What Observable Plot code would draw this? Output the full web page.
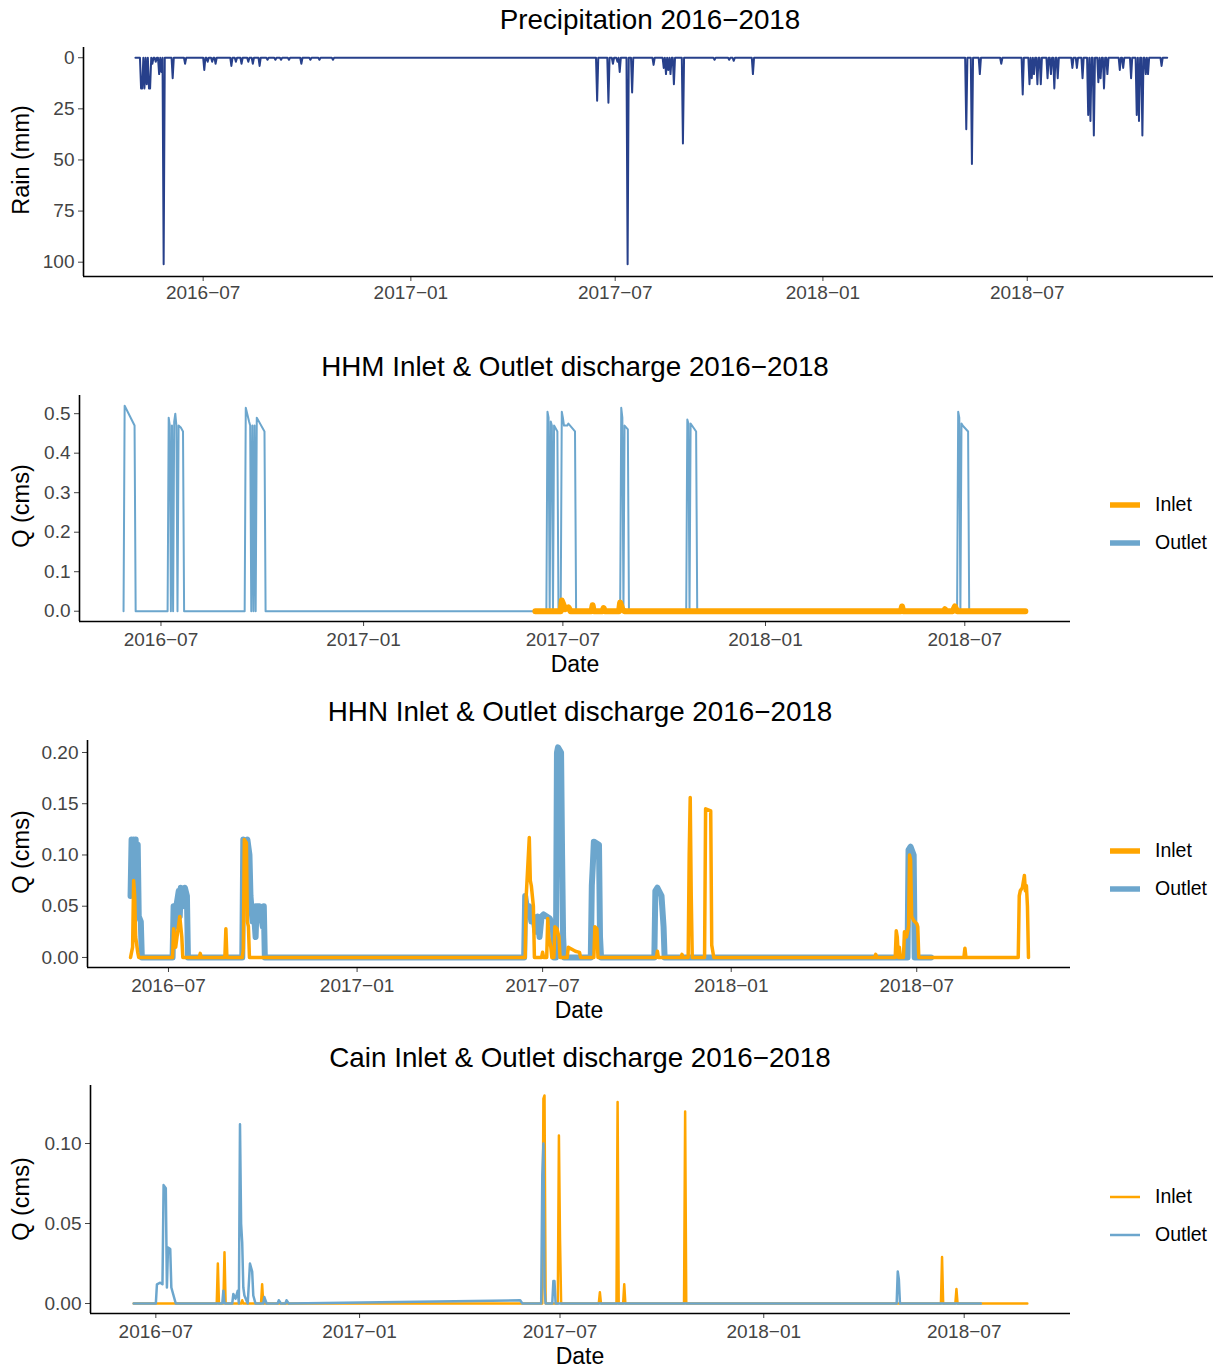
<!DOCTYPE html>
<html><head><meta charset="utf-8">
<script src="https://cdn.jsdelivr.net/npm/d3@7"></script>
<script src="https://cdn.jsdelivr.net/npm/@observablehq/plot@0.6"></script>
<style>
body{margin:0;background:#fff;width:1213px;height:1367px;overflow:hidden;position:relative;font-family:"Liberation Sans",Arial,Helvetica,sans-serif;}
.t{position:absolute;transform:translate(-50%,-50%);white-space:nowrap;color:#000;line-height:1;}
.r{transform:translate(-50%,-50%) rotate(-90deg);}
svg{position:absolute;left:0;}
</style></head><body><div id="root"></div><script>
// ---------- data ----------
const xTickDates = ["2016-07-01","2017-01-01","2017-07-01","2018-01-01","2018-07-01"];
const xTickLabels = ["2016\u221207","2017\u221201","2017\u221207","2018\u221201","2018\u221207"];

const rainTicks = [0,25,50,75,100];
const rainTickLabels = ["0","25","50","75","100"];
const hhmTicks = [0,0.1,0.2,0.3,0.4,0.5];
const hhmTickLabels = ["0.0","0.1","0.2","0.3","0.4","0.5"];
const hhnTicks = [0,0.05,0.1,0.15,0.2];
const hhnTickLabels = ["0.00","0.05","0.10","0.15","0.20"];
const cainTicks = [0,0.05,0.1];
const cainTickLabels = ["0.00","0.05","0.10"];

const seriesNames = ["Inlet","Outlet"];
const seriesColors = ["#FFA500","#6CA6CD"];
const rainColor = "#27408B";

const titles = ["Precipitation 2016\u22122018","HHM Inlet & Outlet discharge 2016\u22122018","HHN Inlet & Outlet discharge 2016\u22122018","Cain Inlet & Outlet discharge 2016\u22122018"];

// daily rain record: first/last day; days not listed had 0 mm
const rainStart = "2016-05-02", rainEnd = "2018-11-02";
const rainEvents = [
["2016-05-07",15],["2016-05-08",15],["2016-05-10",15],["2016-05-12",13],["2016-05-14",15],["2016-05-15",15],["2016-05-17",3],["2016-05-20",2],["2016-05-23",8],["2016-05-25",7],["2016-05-27",101],["2016-06-04",10],["2016-06-15",3],["2016-07-02",6],["2016-07-05",2],["2016-07-09",2],["2016-07-12",3],["2016-07-26",4],["2016-07-30",2],["2016-08-04",3],["2016-08-10",2],["2016-08-14",3],["2016-08-20",4],["2016-08-27",1],["2016-09-03",1],["2016-09-08",1],["2016-09-15",1],["2016-09-26",3],["2016-10-04",1],["2016-10-12",1],["2016-10-24",1],
["2017-06-15",21],["2017-06-25",22],["2017-06-29",3],["2017-07-03",2],["2017-07-05",7],["2017-07-12",101],["2017-07-16",17],["2017-08-04",3.5],["2017-08-13",5],["2017-08-15",8],["2017-08-17",6],["2017-08-19",8],["2017-08-22",13],["2017-08-30",42],["2017-09-27",1],["2017-10-10",1],["2017-10-14",1.5],["2017-10-31",8],
["2018-05-08",35],["2018-05-13",52],["2018-05-20",8],["2018-06-08",3],["2018-06-27",18],["2018-07-03",13],["2018-07-05",10],["2018-07-07",8],["2018-07-10",13],["2018-07-13",13],["2018-07-19",10],["2018-07-22",8],["2018-07-25",15],["2018-07-28",10],["2018-08-10",5],["2018-08-14",5],["2018-08-19",10],["2018-08-24",28],["2018-08-26",31],["2018-08-29",38],["2018-09-02",12],["2018-09-04",10],["2018-09-07",15],["2018-09-10",8],["2018-09-21",6],["2018-09-24",5],["2018-10-01",10],["2018-10-06",28],["2018-10-08",31],["2018-10-11",38],["2018-10-14",8],["2018-10-16",8],["2018-10-28",4]
];

const hhmOutlet = [
["2016-05-28",0],["2016-05-29",0.52],["2016-06-07",0.47],["2016-06-08",0],
["2016-07-07",0],["2016-07-08",0.49],["2016-07-09",0.47],["2016-07-10",0],["2016-07-11",0.47],["2016-07-12",0],["2016-07-13",0.48],["2016-07-14",0.50],["2016-07-15",0.47],["2016-07-16",0],["2016-07-17",0.47],["2016-07-19",0.465],["2016-07-21",0.455],["2016-07-22",0],
["2016-09-15",0],["2016-09-16",0.515],["2016-09-19",0.48],["2016-09-20",0.47],["2016-09-21",0],["2016-09-22",0.47],["2016-09-23",0],["2016-09-24",0.47],["2016-09-25",0],["2016-09-26",0.49],["2016-10-03",0.455],["2016-10-04",0],
["2017-06-16",0],["2017-06-17",0.505],["2017-06-18",0.49],["2017-06-19",0],["2017-06-20",0.48],["2017-06-21",0.47],["2017-06-22",0],["2017-06-23",0.47],["2017-06-26",0.455],["2017-06-27",0],
["2017-06-29",0],["2017-06-30",0.505],["2017-07-01",0.49],["2017-07-02",0.47],["2017-07-05",0.47],["2017-07-06",0.475],["2017-07-12",0.455],["2017-07-13",0],
["2017-08-22",0],["2017-08-23",0.515],["2017-08-24",0.49],["2017-08-25",0],["2017-08-26",0.47],["2017-08-29",0.46],["2017-08-30",0],
["2017-10-21",0],["2017-10-22",0.485],["2017-10-23",0.475],["2017-10-24",0],["2017-10-25",0.475],["2017-10-30",0.455],["2017-10-31",0],
["2018-06-24",0],["2018-06-25",0.505],["2018-06-26",0.49],["2018-06-27",0],["2018-06-28",0.475],["2018-06-29",0.47],["2018-07-04",0.455],["2018-07-05",0],["2018-08-20",0]
];
const hhmInlet = [
["2017-06-06",0],["2017-06-29",0],["2017-06-30",0.027],["2017-07-01",0.02],["2017-07-03",0.005],["2017-07-06",0.01],["2017-07-08",0],["2017-07-27",0],["2017-07-28",0.015],["2017-07-29",0],["2017-08-06",0],["2017-08-07",0.008],["2017-08-08",0],["2017-08-21",0],["2017-08-22",0.022],["2017-08-24",0.005],["2017-08-26",0],["2018-05-04",0],["2018-05-05",0.012],["2018-05-06",0],["2018-06-12",0],["2018-06-13",0.005],["2018-06-14",0],["2018-06-20",0],["2018-06-22",0.012],["2018-06-24",0],["2018-08-25",0]
];

const hhnOutlet = [
["2016-05-25",0.06],["2016-05-26",0.115],["2016-05-27",0.09],["2016-05-28",0.115],["2016-05-29",0.1],["2016-05-30",0.115],["2016-05-31",0.07],["2016-06-01",0.11],["2016-06-02",0.04],["2016-06-04",0.035],["2016-06-05",0],
["2016-07-05",0],["2016-07-06",0.05],["2016-07-08",0.03],["2016-07-09",0.052],["2016-07-11",0.065],["2016-07-12",0.04],["2016-07-13",0.068],["2016-07-15",0.05],["2016-07-17",0.068],["2016-07-19",0.06],["2016-07-20",0],
["2016-09-11",0],["2016-09-12",0.115],["2016-09-14",0.11],["2016-09-16",0.115],["2016-09-18",0.1],["2016-09-19",0.06],["2016-09-21",0.035],["2016-09-22",0.05],["2016-09-24",0.02],["2016-09-25",0.05],["2016-09-28",0.05],["2016-10-01",0.03],["2016-10-02",0.05],["2016-10-03",0],
["2017-06-13",0],["2017-06-14",0.06],["2017-06-16",0.045],["2017-06-18",0.05],["2017-06-20",0.035],["2017-06-22",0.04],["2017-06-24",0.025],["2017-06-26",0.04],["2017-06-28",0.02],["2017-06-30",0.04],["2017-07-02",0.042],["2017-07-05",0.04],["2017-07-08",0.038],["2017-07-11",0.03],["2017-07-12",0],["2017-07-14",0],["2017-07-15",0.2],["2017-07-16",0.205],["2017-07-19",0.2],["2017-07-20",0.1],["2017-07-21",0.02],["2017-07-22",0],
["2017-08-17",0],["2017-08-18",0.07],["2017-08-19",0.09],["2017-08-20",0.113],["2017-08-25",0.11],["2017-08-26",0.02],["2017-08-27",0],
["2017-10-18",0],["2017-10-19",0.065],["2017-10-21",0.068],["2017-10-25",0.06],["2017-10-27",0.03],["2017-10-28",0],
["2018-06-22",0],["2018-06-23",0.105],["2018-06-25",0.108],["2018-06-28",0.1],["2018-06-29",0],["2018-07-15",0]
];
const hhnInlet = [
["2016-05-25",0],["2016-05-27",0.01],["2016-05-28",0.075],["2016-05-29",0.06],["2016-05-30",0.02],["2016-06-01",0.005],["2016-06-02",0],
["2016-07-05",0],["2016-07-06",0.028],["2016-07-08",0.01],["2016-07-10",0.025],["2016-07-12",0.04],["2016-07-14",0.02],["2016-07-15",0],
["2016-07-31",0],["2016-08-01",0.004],["2016-08-02",0],["2016-08-25",0],["2016-08-26",0.028],["2016-08-27",0],
["2016-09-11",0],["2016-09-12",0.008],["2016-09-13",0.115],["2016-09-15",0.112],["2016-09-16",0.035],["2016-09-17",0.03],["2016-09-18",0],
["2017-06-14",0],["2017-06-15",0.06],["2017-06-18",0.117],["2017-06-19",0.075],["2017-06-20",0.07],["2017-06-22",0.05],["2017-06-23",0],
["2017-06-30",0],["2017-07-01",0.005],["2017-07-02",0],["2017-07-05",0],["2017-07-06",0.038],["2017-07-07",0.02],["2017-07-09",0.01],["2017-07-10",0],["2017-07-12",0],["2017-07-13",0.03],["2017-07-15",0.028],["2017-07-17",0.02],["2017-07-18",0],
["2017-07-25",0],["2017-07-26",0.01],["2017-08-02",0.006],["2017-08-06",0.005],["2017-08-07",0],["2017-08-20",0],["2017-08-21",0.03],["2017-08-23",0.028],["2017-08-24",0],
["2017-10-20",0],["2017-10-21",0.006],["2017-10-22",0],["2017-11-13",0],["2017-11-14",0.003],["2017-11-15",0],["2017-11-20",0],["2017-11-21",0.1],["2017-11-22",0.156],["2017-11-23",0.06],["2017-11-24",0],
["2017-12-06",0],["2017-12-07",0.145],["2017-12-12",0.143],["2017-12-13",0.012],["2017-12-15",0],
["2018-05-21",0],["2018-05-22",0.003],["2018-05-23",0],["2018-06-10",0],["2018-06-11",0.026],["2018-06-12",0.02],["2018-06-13",0],["2018-06-14",0.01],["2018-06-15",0],["2018-06-18",0],["2018-06-19",0.025],["2018-06-21",0.02],["2018-06-23",0.03],["2018-06-24",0.1],["2018-06-25",0.095],["2018-06-26",0.04],["2018-06-28",0.036],["2018-07-01",0.033],["2018-07-02",0.03],["2018-07-03",0],
["2018-08-16",0],["2018-08-17",0.009],["2018-08-18",0],["2018-10-08",0],["2018-10-09",0.06],["2018-10-10",0.065],["2018-10-12",0.068],["2018-10-14",0.08],["2018-10-15",0.065],["2018-10-16",0.07],["2018-10-17",0.05],["2018-10-18",0]
];

const cainOutlet = [
["2016-06-11",0],["2016-07-01",0],["2016-07-02",0.012],["2016-07-05",0.013],["2016-07-07",0.012],["2016-07-08",0.074],["2016-07-10",0.072],["2016-07-11",0.01],["2016-07-12",0.035],["2016-07-14",0.034],["2016-07-15",0.01],["2016-07-17",0.005],["2016-07-19",0],
["2016-08-30",0],["2016-08-31",0.008],["2016-09-01",0],["2016-09-08",0],["2016-09-09",0.006],["2016-09-11",0.003],["2016-09-13",0.008],["2016-09-14",0],["2016-09-15",0.112],["2016-09-16",0.05],["2016-09-17",0.038],["2016-09-18",0.01],["2016-09-19",0.005],["2016-09-22",0],["2016-09-24",0.025],["2016-09-26",0.02],["2016-09-27",0.005],["2016-09-29",0],["2016-10-06",0],["2016-10-07",0.004],["2016-10-09",0],["2016-10-19",0],["2016-10-20",0.002],["2016-10-22",0],["2016-10-26",0],["2016-10-27",0.002],["2016-10-29",0],["2017-05-26",0.002],["2017-05-28",0],
["2017-06-14",0],["2017-06-15",0.08],["2017-06-16",0.1],["2017-06-17",0.01],["2017-06-18",0],["2017-06-24",0],["2017-06-25",0.014],["2017-06-26",0.014],["2017-06-27",0],
["2018-05-01",0],["2018-05-02",0.02],["2018-05-03",0.015],["2018-05-04",0],["2018-07-16",0]
];
const cainInlet = [
["2016-06-11",0],["2016-08-25",0],["2016-08-26",0.025],["2016-08-27",0],["2016-08-31",0],["2016-09-01",0.032],["2016-09-02",0],["2016-09-16",0],["2016-09-17",0.002],["2016-09-18",0],["2016-10-04",0],["2016-10-05",0.012],["2016-10-06",0],
["2017-06-15",0],["2017-06-16",0.128],["2017-06-17",0.13],["2017-06-18",0],["2017-06-29",0],["2017-06-30",0.105],["2017-07-01",0.04],["2017-07-02",0],["2017-08-05",0],["2017-08-06",0.007],["2017-08-07",0],["2017-08-21",0],["2017-08-22",0.126],["2017-08-23",0],["2017-08-27",0],["2017-08-28",0.012],["2017-08-29",0],["2017-10-21",0],["2017-10-22",0.12],["2017-10-23",0],
["2018-06-10",0],["2018-06-11",0.029],["2018-06-12",0],["2018-06-23",0],["2018-06-24",0.009],["2018-06-25",0],["2018-08-27",0]
];

// ---------- helpers ----------
const DAY = 864e5;
const parse = s => new Date(s + "T00:00:00Z");
const root = document.getElementById("root");
const FONT = '"Liberation Sans", Arial, Helvetica, sans-serif';
const xTicks = xTickDates.map(parse);
const fmtX = d => { const i = xTicks.findIndex(t => t.getTime() === +d); return i >= 0 ? xTickLabels[i] : ""; };

function daily(events, start, end) {
  const m = new Map(events.map(([d, v]) => [parse(d).getTime(), v]));
  const out = [];
  for (let t = parse(start).getTime(); t <= parse(end).getTime(); t += DAY) out.push({date: new Date(t), value: m.get(t) ?? 0});
  return out;
}
const rows = pairs => pairs.map(([d, v]) => ({date: parse(d), value: v}));

function text(str, x, y, size, rotate) {
  const el = document.createElement("div");
  el.className = "t" + (rotate ? " r" : "");
  el.textContent = str;
  el.style.left = x + "px"; el.style.top = y + "px"; el.style.fontSize = size + "px";
  root.appendChild(el);
}

function legend(x, y1, y2, lw) {
  [y1, y2].forEach((y, i) => {
    const s = document.createElementNS("http://www.w3.org/2000/svg", "svg");
    s.setAttribute("width", 40); s.setAttribute("height", 12);
    s.style.left = x + "px"; s.style.top = (y - 6) + "px";
    const l = document.createElementNS("http://www.w3.org/2000/svg", "line");
    l.setAttribute("x1", 5); l.setAttribute("x2", 35); l.setAttribute("y1", 6); l.setAttribute("y2", 6);
    l.setAttribute("stroke", seriesColors[i]); l.setAttribute("stroke-width", lw);
    s.appendChild(l); root.appendChild(s);
    const t = document.createElement("div");
    t.className = "t"; t.style.transform = "translate(0,-50%)";
    t.textContent = seriesNames[i];
    t.style.left = (x + 50) + "px"; t.style.top = y + "px"; t.style.fontSize = "19.5px";
    root.appendChild(t);
  });
}

function panel(c) {
  const W = 1213;
  const svg = Plot.plot({
    width: W, height: c.height,
    marginTop: c.frameTop - c.top, marginBottom: c.top + c.height - c.frameBottom,
    marginLeft: c.left, marginRight: W - c.right,
    style: {fontFamily: FONT, fontSize: "19px", color: "#444", background: "none", overflow: "visible"},
    x: {type: "utc", domain: c.xDomain.map(parse), ticks: xTicks, tickFormat: fmtX, tickSize: 5, tickPadding: c.xPad, label: null},
    y: {domain: c.yDomain, reverse: !!c.reverse, ticks: c.yTicks, tickFormat: v => c.yLabels[c.yTicks.indexOf(v)], tickSize: 5, tickPadding: 4, label: null},
    marks: [
      ...c.marks,
      Plot.ruleX([parse(c.xDomain[0])], {stroke: "#000", strokeWidth: 1.6}),
      Plot.ruleY([c.reverse ? c.yDomain[1] : c.yDomain[0]], {stroke: "#000", strokeWidth: 1.6})
    ]
  });
  svg.style.position = "absolute"; svg.style.left = "0px"; svg.style.top = c.top + "px";
  root.appendChild(svg);
}

// ---------- panel 1: precipitation ----------
panel({top: 35, height: 275, frameTop: 47, frameBottom: 276, left: 83, right: 1213,
  xDomain: ["2016-03-17", "2018-12-13"], yDomain: [-5, 107], reverse: true, xPad: 4,
  yTicks: rainTicks, yLabels: rainTickLabels,
  marks: [Plot.lineY(daily(rainEvents, rainStart, rainEnd), {x: "date", y: "value", stroke: rainColor, strokeWidth: 2})]});
text(titles[0], 650, 20, 27.8);
text("Rain (mm)", 22, 160, 23.5, true);

// ---------- panel 2: HHM ----------
panel({top: 385, height: 270, frameTop: 395, frameBottom: 621, left: 79, right: 1070,
  xDomain: ["2016-04-18", "2018-10-05"], yDomain: [-0.026, 0.546], xPad: 6,
  yTicks: hhmTicks, yLabels: hhmTickLabels,
  marks: [
    Plot.lineY(rows(hhmOutlet), {x: "date", y: "value", stroke: seriesColors[1], strokeWidth: 2}),
    Plot.lineY(rows(hhmInlet), {x: "date", y: "value", stroke: seriesColors[0], strokeWidth: 6})
  ]});
text(titles[1], 575, 367, 27.8);
text("Q (cms)", 22, 506, 23.5, true);
text("Date", 575, 664, 23);
legend(1105, 505, 543, 5.5);

// ---------- panel 3: HHN ----------
panel({top: 730, height: 270, frameTop: 740, frameBottom: 967, left: 87, right: 1070,
  xDomain: ["2016-04-13", "2018-11-28"], yDomain: [-0.0098, 0.2117], xPad: 6,
  yTicks: hhnTicks, yLabels: hhnTickLabels,
  marks: [
    Plot.lineY(rows(hhnOutlet), {x: "date", y: "value", stroke: seriesColors[1], strokeWidth: 6}),
    Plot.lineY(rows(hhnInlet), {x: "date", y: "value", stroke: seriesColors[0], strokeWidth: 3.5})
  ]});
text(titles[2], 580, 712, 27.8);
text("Q (cms)", 22, 852, 23.5, true);
text("Date", 579, 1010, 23);
legend(1105, 851, 889, 5.5);

// ---------- panel 4: Cain ----------
panel({top: 1075, height: 270, frameTop: 1085, frameBottom: 1313, left: 90, right: 1070,
  xDomain: ["2016-05-03", "2018-10-05"], yDomain: [-0.00625, 0.13625], xPad: 6,
  yTicks: cainTicks, yLabels: cainTickLabels,
  marks: [
    Plot.lineY(rows(cainInlet), {x: "date", y: "value", stroke: seriesColors[0], strokeWidth: 2.5}),
    Plot.lineY(rows(cainOutlet), {x: "date", y: "value", stroke: seriesColors[1], strokeWidth: 2.5})
  ]});
text(titles[3], 580, 1058, 27.8);
text("Q (cms)", 22, 1199, 23.5, true);
text("Date", 580, 1356, 23);
legend(1105, 1197, 1235, 2.5);
</script></body></html>
